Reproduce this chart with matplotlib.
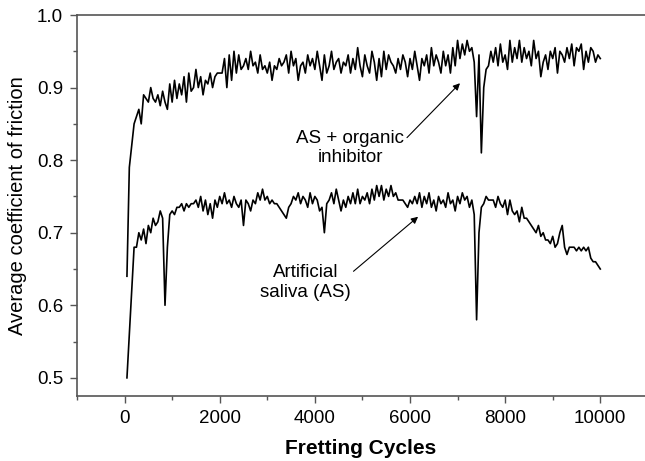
import numpy as np
import matplotlib
matplotlib.use("Agg")
import matplotlib.pyplot as plt
from matplotlib.ticker import MultipleLocator

plt.rcParams['font.family'] = ['Liberation Sans', 'DejaVu Sans']

# Fretting cycles (every 50 cycles)
cycles = np.arange(50, 10001, 50)

# AS + organic inhibitor
cof_inhibitor = [
    0.64, 0.79, 0.82, 0.85, 0.86, 0.87, 0.85, 0.89, 0.885, 0.88, 0.90, 0.885, 0.88, 0.89, 0.875, 0.895, 0.88, 0.87, 0.905, 0.88,
    0.91, 0.885, 0.905, 0.89, 0.915, 0.88, 0.92, 0.895, 0.90, 0.925, 0.90, 0.915, 0.89, 0.91, 0.905, 0.92, 0.90, 0.915, 0.92, 0.92,
    0.92, 0.94, 0.90, 0.945, 0.91, 0.95, 0.92, 0.945, 0.925, 0.93, 0.94, 0.925, 0.95, 0.93, 0.935, 0.92, 0.945, 0.925, 0.93, 0.92,
    0.935, 0.91, 0.93, 0.925, 0.94, 0.93, 0.935, 0.945, 0.92, 0.95, 0.93, 0.94, 0.91, 0.93, 0.935, 0.92, 0.945, 0.93, 0.94, 0.925,
    0.95, 0.93, 0.91, 0.945, 0.92, 0.93, 0.95, 0.925, 0.935, 0.94, 0.92, 0.935, 0.93, 0.945, 0.92, 0.94, 0.925, 0.955, 0.93, 0.915,
    0.945, 0.93, 0.92, 0.95, 0.935, 0.91, 0.94, 0.915, 0.95, 0.925, 0.945, 0.935, 0.93, 0.92, 0.94, 0.925, 0.945, 0.935, 0.915, 0.94,
    0.925, 0.95, 0.93, 0.91, 0.94, 0.93, 0.945, 0.92, 0.955, 0.93, 0.945, 0.935, 0.92, 0.95, 0.93, 0.945, 0.92, 0.955, 0.93, 0.965,
    0.94, 0.96, 0.945, 0.965, 0.95, 0.955, 0.935, 0.86, 0.945, 0.81, 0.90, 0.925, 0.93, 0.95, 0.935, 0.955, 0.93, 0.96, 0.935, 0.945,
    0.925, 0.965, 0.935, 0.955, 0.94, 0.965, 0.935, 0.955, 0.94, 0.95, 0.93, 0.965, 0.94, 0.95, 0.915, 0.935, 0.945, 0.925, 0.95, 0.94,
    0.955, 0.92, 0.95, 0.945, 0.935, 0.955, 0.94, 0.96, 0.93, 0.955, 0.95, 0.96, 0.925, 0.95, 0.935, 0.955, 0.95, 0.935, 0.945, 0.94,
]

# Artificial saliva (AS)
cof_saliva = [
    0.50, 0.56, 0.62, 0.68, 0.68, 0.70, 0.69, 0.705, 0.685, 0.71, 0.70, 0.72, 0.71, 0.715, 0.73, 0.72, 0.60, 0.68, 0.725, 0.73,
    0.725, 0.735, 0.735, 0.74, 0.73, 0.74, 0.735, 0.74, 0.74, 0.745, 0.735, 0.75, 0.73, 0.745, 0.725, 0.74, 0.72, 0.745, 0.735, 0.75,
    0.74, 0.755, 0.74, 0.745, 0.735, 0.75, 0.74, 0.735, 0.745, 0.71, 0.745, 0.74, 0.73, 0.745, 0.74, 0.755, 0.745, 0.76, 0.745, 0.75,
    0.74, 0.745, 0.74, 0.74, 0.735, 0.73, 0.725, 0.72, 0.735, 0.74, 0.75, 0.745, 0.755, 0.74, 0.75, 0.745, 0.735, 0.755, 0.74, 0.75,
    0.745, 0.73, 0.735, 0.70, 0.74, 0.745, 0.755, 0.74, 0.76, 0.745, 0.73, 0.745, 0.735, 0.75, 0.74, 0.755, 0.74, 0.76, 0.74, 0.75,
    0.745, 0.755, 0.74, 0.76, 0.745, 0.765, 0.75, 0.765, 0.745, 0.76, 0.75, 0.765, 0.75, 0.755, 0.745, 0.745, 0.745, 0.74, 0.735, 0.745,
    0.74, 0.75, 0.74, 0.755, 0.735, 0.75, 0.74, 0.755, 0.735, 0.745, 0.73, 0.75, 0.74, 0.745, 0.735, 0.755, 0.74, 0.745, 0.73, 0.75,
    0.74, 0.755, 0.745, 0.75, 0.735, 0.745, 0.725, 0.58, 0.70, 0.735, 0.74, 0.75, 0.745, 0.745, 0.745, 0.735, 0.75, 0.74, 0.735, 0.745,
    0.725, 0.745, 0.73, 0.725, 0.73, 0.715, 0.735, 0.72, 0.72, 0.715, 0.71, 0.705, 0.70, 0.71, 0.695, 0.70, 0.69, 0.69, 0.685, 0.695,
    0.68, 0.685, 0.70, 0.71, 0.68, 0.67, 0.68, 0.68, 0.68, 0.675, 0.68, 0.675, 0.68, 0.675, 0.68, 0.665, 0.66, 0.66, 0.655, 0.65,
]

x_ticks = [0, 2000, 4000, 6000, 8000, 10000]
y_ticks = [0.5, 0.6, 0.7, 0.8, 0.9, 1.0]

fig = plt.figure(figsize=(6.45, 4.61), dpi=100)
ax = fig.add_axes([77/645, 65/461, 1 - 77/645, (396 - 15)/461])

ax.plot(cycles, cof_inhibitor, color='black', lw=1.2)
ax.plot(cycles, cof_saliva, color='black', lw=1.2)

ax.set_xlim(-1000, 10940)
ax.set_ylim(0.475, 1.0)
ax.set_xticks(x_ticks)
ax.set_yticks(y_ticks)
ax.set_yticklabels([f"{v:.1f}" for v in y_ticks])
ax.xaxis.set_minor_locator(MultipleLocator(1000))
ax.yaxis.set_minor_locator(MultipleLocator(0.05))
ax.tick_params(which='major', direction='out', length=5, width=1, color='#555555', labelsize=13.5, pad=5)
ax.tick_params(which='minor', direction='out', length=3, width=1, color='#555555')
ax.tick_params(axis='x', which='both', top=False)
ax.tick_params(axis='y', which='both', right=False)

for s in ['left', 'bottom', 'top']:
    ax.spines[s].set_color('#555555')
    ax.spines[s].set_linewidth(1.2)
ax.spines['right'].set_visible(False)

ax.set_xlabel('Fretting Cycles', fontsize=15, fontweight='bold', labelpad=9)
ax.set_ylabel('Average coefficient of friction', fontsize=14.5, labelpad=7)

ax.annotate('AS + organic\ninhibitor', xy=(7051, 0.906), xytext=(4743, 0.817),
            ha='center', va='center', fontsize=13.5, linespacing=1.2,
            arrowprops=dict(arrowstyle='-|>', color='black', lw=0.8,
                            shrinkA=0, shrinkB=0, mutation_scale=10,
                            relpos=(1.0, 0.7)))
ax.annotate('Artificial\nsaliva (AS)', xy=(6170, 0.722), xytext=(3800, 0.631),
            ha='center', va='center', fontsize=13.5, linespacing=1.2,
            arrowprops=dict(arrowstyle='-|>', color='black', lw=0.8,
                            shrinkA=0, shrinkB=0, mutation_scale=10,
                            relpos=(1.0, 0.75)))

fig.savefig('out.png', dpi=100)
